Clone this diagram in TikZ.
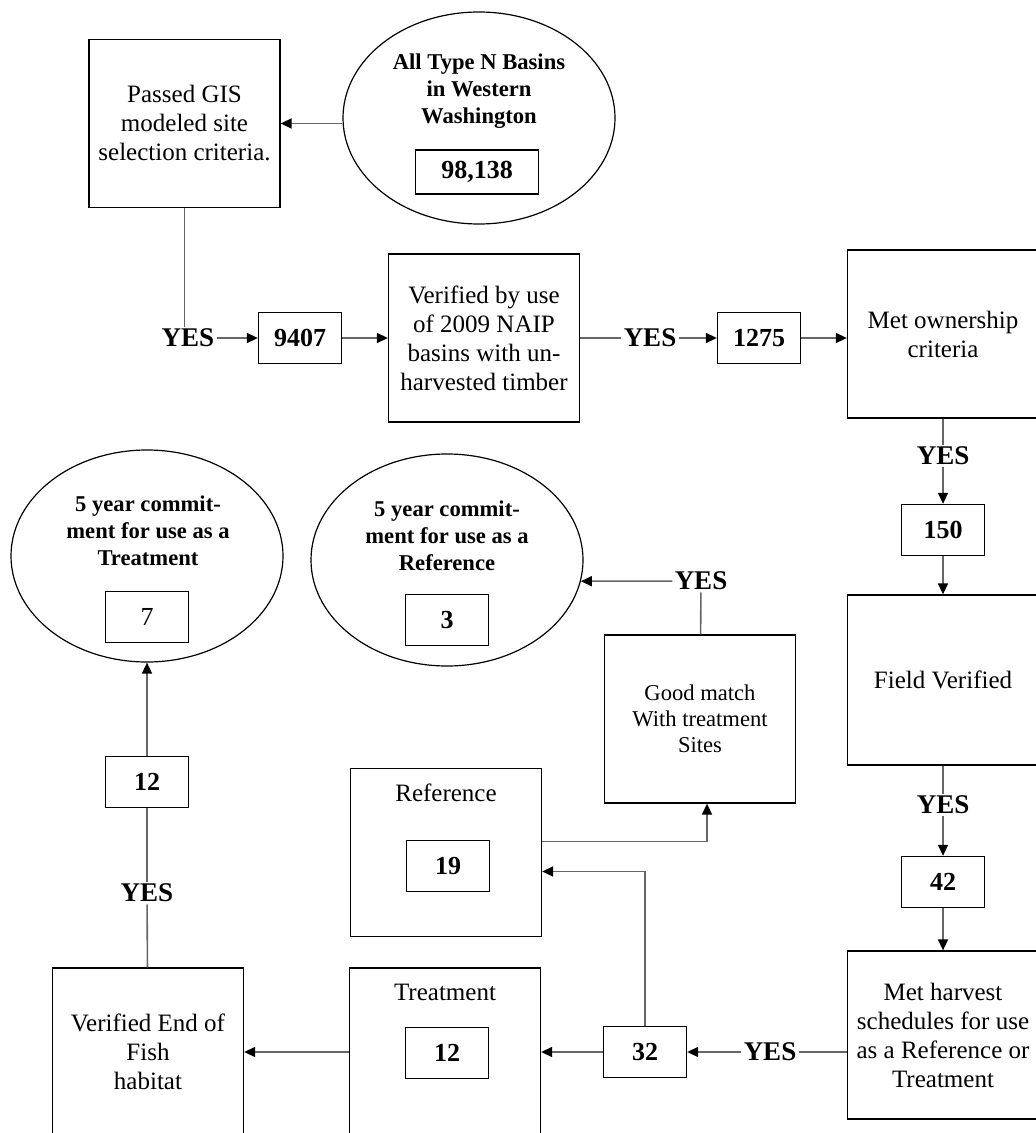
\documentclass[tikz,border=0pt]{standalone}
\usepackage{fontspec}
\setmainfont{Liberation Serif}
\usetikzlibrary{shapes.geometric,arrows.meta}

\begin{document}
\begin{tikzpicture}[x=0.5pt, y=-0.5pt,
  every node/.style={align=center, inner sep=0pt},
  stepbox/.style={draw, line width=0.65pt, minimum width=95.5pt, minimum height=84pt, font=\fontsize{12.5}{14.5}\selectfont},
  numbox/.style={draw, line width=0.65pt, minimum width=41.5pt, minimum height=25.5pt, font=\fontsize{13}{15}\selectfont\bfseries},
  bubble/.style={draw, ellipse, line width=0.6pt, minimum width=136pt, minimum height=106pt},
  bubtext/.style={font=\fontsize{11.3}{13.5}\selectfont\bfseries},
  yes/.style={inner sep=1pt, font=\fontsize{13.5}{15}\selectfont\bfseries},
  link/.style={draw=black!60, line width=0.8pt},
  arr/.style={link, -{Triangle[length=5.5pt, width=5pt, color=black]}}
]
\clip (0,0) rectangle (1036,1133);

% top row
\node[stepbox] (gis) at (184.5,123.5) {Passed GIS\\modeled site\\selection criteria.};
\node[bubble] (allN) at (479,118) {};
\node[bubtext] (allNtxt) at (479,91) {All Type N Basins\\in Western\\Washington};
\node[numbox, minimum width=61.5pt, minimum height=22pt] (n98) at (477,172) {98,138};

% second row
\node[yes] (yes1) at (188,338) {YES};
\node[numbox] (n9407) at (300,338) {9407};
\node[stepbox] (naip) at (484,338) {Verified by use\\of 2009 NAIP\\basins with un-\\harvested timber};
\node[yes] (yes2) at (650,338) {YES};
\node[numbox] (n1275) at (759,338) {1275};
\node[stepbox] (owner) at (943,334) {Met ownership\\criteria};

% right column
\node[yes] (yes3) at (943,456) {YES};
\node[numbox] (n150) at (943,530) {150};
\node[stepbox, minimum height=85pt] (field) at (943,680) {Field Verified};
\node[yes] (yes4) at (943,805) {YES};
\node[numbox] (n42) at (943,882) {42};
\node[stepbox] (harvest) at (943,1035) {Met harvest\\schedules for use\\as a Reference or\\Treatment};

% bottom row
\node[yes] (yes5) at (770,1052) {YES};
\node[numbox] (n32) at (645,1052) {32};
\node[stepbox] (treat) at (445,1052) {};
\node (treattxt) at (445,992) {\fontsize{12.5}{14.5}\selectfont Treatment};
\node[numbox] (n12b) at (447,1053) {12};
\node[stepbox] (fish) at (148,1052) {Verified End of\\Fish\\habitat};

% middle
\node[stepbox] (ref) at (446,852.5) {};
\node (reftxt) at (446,793) {\fontsize{12.5}{14.5}\selectfont Reference};
\node[numbox] (n19) at (448,866) {19};
\node[stepbox, font=\fontsize{11.3}{13}\selectfont] (match) at (700,719) {Good match\\With treatment\\Sites};
\node[yes] (yes7) at (701,581) {YES};
\node[yes] (yes6) at (147,893) {YES};
\node[numbox] (n12a) at (147,782) {12};

% ellipses
\node[bubble] (commT) at (147,556) {};
\node[bubtext] (commTtxt) at (148,531) {5 year commit-\\ment for use as a\\Treatment};
\node[numbox, font=\fontsize{13}{15}\selectfont] (n7) at (147,617) {7};
\node[bubble] (commR) at (447,560) {};
\node[bubtext] (commRtxt) at (447,536) {5 year commit-\\ment for use as a\\Reference};
\node[numbox] (n3) at (447,620) {3};

\draw[arr] (gis.east -| allN.west) -- (gis.east);
\foreach \a/\b in {yes1/n9407, n9407/naip, yes2/n1275, yes3/n150, n150/field, yes4/n42, n42/harvest, yes5/n32, n32/treat, treat/fish, n12a/commT}
  \draw[arr] (\a) -- (\b);
\foreach \a/\b in {naip/yes2, owner/yes3, field/yes4, fish/yes6, yes6/n12a, match/yes7}
  \draw[link] (\a) -- (\b);
\draw[link] (gis.south) -- (gis.south |- yes1.north);
\draw[arr] (n1275.east) -- (n1275.east -| owner.west);
\draw[link] (harvest.west |- yes5) -- (yes5);
\draw[arr] (yes7) -- (commR.-9);
\draw[arr] ([yshift=5.5pt]ref.east) -| ([xshift=3.5pt]match.south);
\draw[arr] (n32.north) |- ([yshift=-9.5pt]ref.east);

\end{tikzpicture}
\end{document}
